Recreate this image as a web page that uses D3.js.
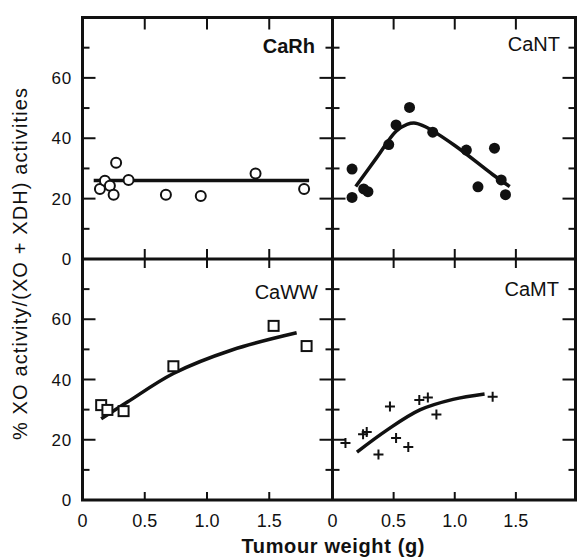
<!DOCTYPE html>
<html>
<head>
<meta charset="utf-8">
<script src="https://cdn.jsdelivr.net/npm/d3@7"></script>
<style>
  body { margin: 0; background: #fff; }
  svg { display: block; font-family: "Liberation Sans", Arial, sans-serif; }
</style>
</head>
<body>
<div id="chart"></div>
<script>
// tick values / labels
const xTickVals = [0, 0.5, 1.0, 1.5];
const xTickLabels = ['0', '0.5', '1.0', '1.5'];
const yTickVals = [0, 20, 40, 60];
const yMinorVals = [10, 30, 50, 70];

// CaRh - open circles
const caRhWeight = [0.14, 0.18, 0.22, 0.25, 0.27, 0.37, 0.67, 0.95, 1.39, 1.78];
const caRhXO = [23.2, 25.9, 24.3, 21.3, 31.9, 26.2, 21.3, 20.9, 28.3, 23.2];
const caRhFitW = [0.09, 1.82];
const caRhFitXO = [26, 26];

// CaNT - filled circles
const caNTWeight = [0.16, 0.16, 0.255, 0.29, 0.46, 0.52, 0.63, 0.82, 1.095, 1.19, 1.325, 1.38, 1.415];
const caNTXO = [29.8, 20.4, 23.2, 22.3, 37.9, 44.4, 50.2, 42.0, 36.1, 23.9, 36.7, 26.2, 21.3];
const caNTFitW = [0.19, 0.36, 0.52, 0.61, 0.68, 0.76, 1.0, 1.31, 1.45];
const caNTFitXO = [24, 33.5, 42.3, 44.6, 45, 43.8, 37.6, 28, 24];

// CaWW - open squares
const caWWWeight = [0.15, 0.20, 0.33, 0.73, 1.535, 1.80];
const caWWXO = [31.5, 29.9, 29.5, 44.4, 57.8, 51.1];
const caWWFitW = [0.15, 0.36, 0.73, 1.2, 1.72];
const caWWFitXO = [27, 32.5, 42, 49.8, 55.5];

// CaMT - crosses
const caMTWeight = [0.106, 0.25, 0.28, 0.376, 0.47, 0.52, 0.62, 0.71, 0.78, 0.85, 1.31];
const caMTXO = [18.9, 21.8, 22.6, 15.1, 31, 20.6, 17.6, 33.2, 34, 28.4, 34.3];
const caMTFitW = [0.2, 0.445, 0.715, 0.986, 1.244];
const caMTFitXO = [15.9, 23.2, 29.9, 33.4, 35.2];

const width = 577, height = 558;
const cols = [[82.5, 332.5, 331.5], [332.5, 575.5, 577]];
const rows = [[17.5, 259], [259, 500]];

const panels = [
  {name: 'CaRh', bold: true, col: 0, row: 0, w: caRhWeight, v: caRhXO, fw: caRhFitW, fv: caRhFitXO, mark: 'open', lab: [315, 53]},
  {name: 'CaNT', bold: false, col: 1, row: 0, w: caNTWeight, v: caNTXO, fw: caNTFitW, fv: caNTFitXO, mark: 'dot', lab: [560, 51]},
  {name: 'CaWW', bold: false, col: 0, row: 1, w: caWWWeight, v: caWWXO, fw: caWWFitW, fv: caWWFitXO, mark: 'square', lab: [318, 299]},
  {name: 'CaMT', bold: false, col: 1, row: 1, w: caMTWeight, v: caMTXO, fw: caMTFitW, fv: caMTFitXO, mark: 'cross', lab: [559, 296]}
];

const svg = d3.select('#chart').append('svg')
  .attr('width', width)
  .attr('height', height);

const ink = '#111';

panels.forEach(function(p) {
  const c = cols[p.col], r = rows[p.row];
  const x = d3.scaleLinear().domain([0, 2]).range([c[0], c[2]]);
  const y = d3.scaleLinear().domain([0, 80]).range([r[1], r[0]]);
  const g = svg.append('g');

  // ticks, inward on all sides
  const xt = [0.5, 1.0, 1.5];
  g.selectAll('.xtTop').data(xt).enter().append('line')
    .attr('x1', d => x(d)).attr('x2', d => x(d))
    .attr('y1', r[0]).attr('y2', r[0] + (p.row === 0 ? 12 : 9))
    .attr('stroke', ink).attr('stroke-width', 2);
  g.selectAll('.xtBot').data(xt).enter().append('line')
    .attr('x1', d => x(d)).attr('x2', d => x(d))
    .attr('y1', r[1]).attr('y2', r[1] - (p.row === 0 ? 10 : 8))
    .attr('stroke', ink).attr('stroke-width', 2);
  [c[0], c[1]].forEach(function(edge, i) {
    const dir = i === 0 ? 1 : -1;
    g.selectAll(null).data(yTickVals.slice(1)).enter().append('line')
      .attr('x1', edge).attr('x2', edge + dir * 13)
      .attr('y1', d => y(d)).attr('y2', d => y(d))
      .attr('stroke', ink).attr('stroke-width', 2);
    g.selectAll(null).data(yMinorVals).enter().append('line')
      .attr('x1', edge).attr('x2', edge + dir * 7)
      .attr('y1', d => y(d)).attr('y2', d => y(d))
      .attr('stroke', ink).attr('stroke-width', 2);
  });

  // fitted line
  const pts = p.fw.map((w, i) => [w, p.fv[i]]);
  g.append('path')
    .datum(pts)
    .attr('fill', 'none')
    .attr('stroke', ink)
    .attr('stroke-width', 3.5)
    .attr('d', d3.line().x(d => x(d[0])).y(d => y(d[1])).curve(d3.curveCatmullRom.alpha(0.5)));

  // points
  const data = p.w.map((w, i) => [w, p.v[i]]);
  const m = g.selectAll('.pt').data(data).enter();
  if (p.mark === 'open') {
    m.append('circle').attr('cx', d => x(d[0])).attr('cy', d => y(d[1])).attr('r', 5)
      .attr('fill', '#fff').attr('stroke', ink).attr('stroke-width', 2);
  } else if (p.mark === 'dot') {
    m.append('circle').attr('cx', d => x(d[0])).attr('cy', d => y(d[1])).attr('r', 5.5)
      .attr('fill', ink);
  } else if (p.mark === 'square') {
    m.append('rect').attr('x', d => x(d[0]) - 5).attr('y', d => y(d[1]) - 5)
      .attr('width', 10).attr('height', 10)
      .attr('fill', '#fff').attr('stroke', ink).attr('stroke-width', 2);
  } else {
    m.append('path')
      .attr('d', d => 'M' + (x(d[0]) - 5) + ',' + y(d[1]) + 'h10M' + x(d[0]) + ',' + (y(d[1]) - 5) + 'v10')
      .attr('stroke', ink).attr('stroke-width', 2);
  }

  g.append('text')
    .attr('x', p.lab[0]).attr('y', p.lab[1])
    .attr('text-anchor', 'end')
    .attr('font-size', 20)
    .attr('font-weight', p.bold ? 'bold' : 'normal')
    .attr('fill', ink)
    .text(p.name);

  // y tick labels on left column
  if (p.col === 0) {
    g.selectAll('.yl').data(yTickVals).enter().append('text')
      .attr('x', 72).attr('y', d => y(d) + 6)
      .attr('text-anchor', 'end')
      .attr('font-size', 17)
      .attr('letter-spacing', 0.8)
      .attr('fill', ink)
      .text(d => d);
  }
  // x tick labels on bottom row
  if (p.row === 1) {
    g.selectAll('.xl').data(xTickVals).enter().append('text')
      .attr('x', d => x(d)).attr('y', 527)
      .attr('text-anchor', 'middle')
      .attr('font-size', 18)
      .attr('fill', ink)
      .text((d, i) => xTickLabels[i]);
  }
});

// frame lines
const frame = svg.append('g').attr('stroke', ink).attr('stroke-width', 3).attr('fill', 'none');
frame.append('rect').attr('x', 82.5).attr('y', 17.5).attr('width', 575.5 - 82.5).attr('height', 500 - 17.5);
frame.append('line').attr('x1', 332.5).attr('x2', 332.5).attr('y1', 17.5).attr('y2', 500);
frame.append('line').attr('x1', 82.5).attr('x2', 575.5).attr('y1', 259).attr('y2', 259);

// axis titles
svg.append('text')
  .attr('x', 333).attr('y', 553)
  .attr('text-anchor', 'middle')
  .attr('font-size', 20)
  .attr('font-weight', 'bold')
  .attr('textLength', 183)
  .attr('lengthAdjust', 'spacing')
  .attr('fill', ink)
  .text('Tumour weight (g)');

svg.append('text')
  .attr('transform', 'translate(27,264) rotate(-90)')
  .attr('text-anchor', 'middle')
  .attr('font-size', 20)
  .attr('textLength', 352)
  .attr('lengthAdjust', 'spacing')
  .attr('fill', ink)
  .text('% XO activity/(XO + XDH) activities');
</script>
</body>
</html>
